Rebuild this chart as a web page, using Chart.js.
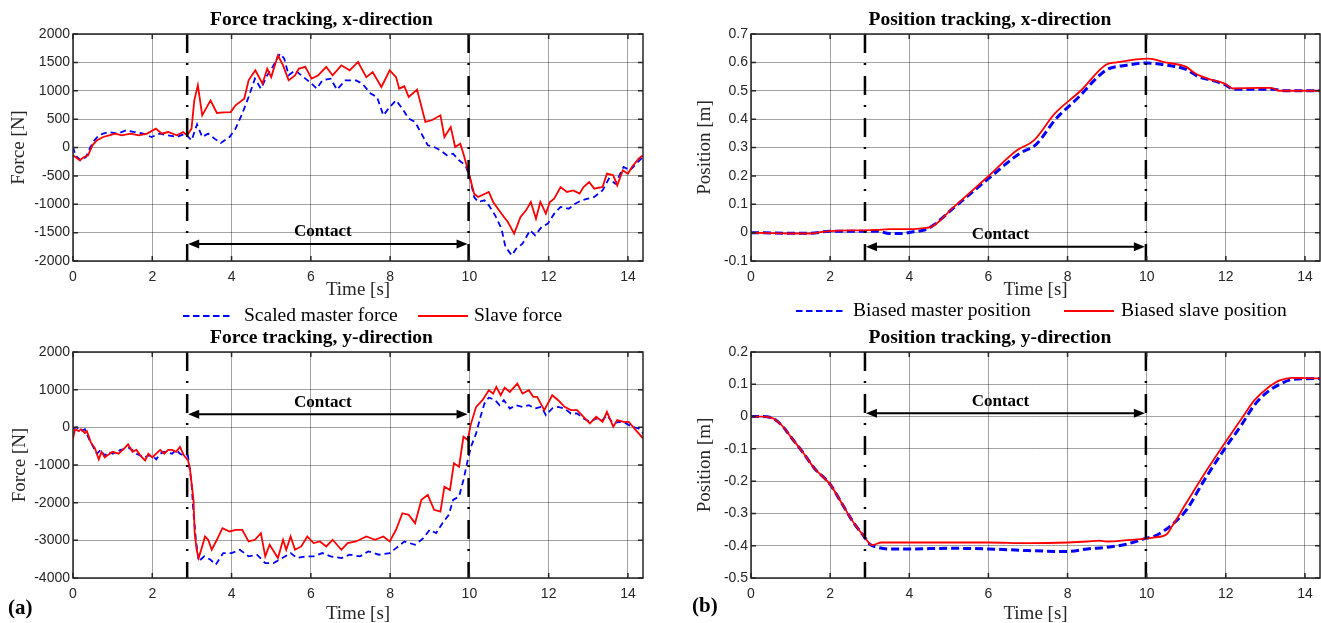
<!DOCTYPE html>
<html>
<head>
<meta charset="utf-8">
<script src="https://cdn.jsdelivr.net/npm/chart.js@4.4.0/dist/chart.umd.min.js"></script>
<style>
  html, body { margin: 0; padding: 0; background: #fff; overflow: hidden; width: 1321px; height: 623px; }
  canvas { position: absolute; }
  .lg { position: absolute; font-family: "Liberation Serif", "Times New Roman", serif; font-size: 19.5px; line-height: 24px; color: #000; white-space: nowrap; }
  .sw { position: absolute; }
  .tag { position: absolute; font-family: "Liberation Serif", serif; font-weight: bold; font-size: 21px; line-height: 24px; }
</style>
</head>
<body>
<canvas id="fx" width="660" height="310" style="left:0;top:0"></canvas>
<canvas id="px" width="661" height="310" style="left:660px;top:0"></canvas>
<canvas id="fy" width="660" height="303" style="left:0;top:324px"></canvas>
<canvas id="py" width="661" height="303" style="left:660px;top:324px"></canvas>
<div id="legends"></div>
<div class="tag" style="left:8px;top:595px">(a)</div>
<div class="tag" style="left:692px;top:593px">(b)</div>
<script>
// contact phase, seconds
const contactTimes = [2.88, 9.98];

const xTicksMax = 14.38;

// force, x-direction
const tFxSlave = [0,0.06,0.17,0.28,0.38,0.49,0.6,0.76,0.91,1.07,1.23,1.45,1.66,1.87,2.09,2.24,2.4,2.62,2.78,2.88,2.99,3.06,3.15,3.26,3.47,3.63,3.8,3.98,4.1,4.32,4.43,4.6,4.78,4.9,5.0,5.17,5.3,5.44,5.6,5.7,5.86,6.02,6.18,6.39,6.55,6.77,6.98,7.19,7.4,7.56,7.78,7.99,8.15,8.23,8.36,8.47,8.68,8.89,9.05,9.27,9.37,9.53,9.64,9.77,9.85,10.01,10.12,10.22,10.49,10.6,10.81,10.97,11.13,11.29,11.43,11.55,11.68,11.79,11.93,12.03,12.14,12.3,12.46,12.62,12.78,12.88,13.02,13.15,13.36,13.47,13.63,13.73,13.87,14.0,14.1,14.27,14.38];
const fxSlave = [-138,-167,-226,-167,-138,38,126,185,214,244,214,244,214,244,332,244,273,214,273,214,332,830,1096,567,830,608,620,625,743,860,1183,1360,1125,1390,1240,1624,1448,1183,1270,1390,1420,1213,1270,1420,1270,1448,1360,1507,1240,1330,1066,1360,1240,1037,1078,890,1020,450,480,567,185,361,9,67,-109,-520,-813,-872,-784,-960,-1166,-1313,-1518,-1225,-1107,-960,-1254,-960,-1166,-960,-901,-696,-784,-755,-813,-696,-608,-725,-696,-461,-490,-667,-402,-461,-343,-197,-138];
const tFxMaster = [0,0.06,0.19,0.33,0.44,0.54,0.65,0.76,0.91,1.13,1.34,1.55,1.77,1.98,2.19,2.4,2.62,2.83,2.99,3.13,3.26,3.41,3.57,3.73,3.95,4.1,4.27,4.43,4.59,4.74,4.9,5.06,5.22,5.33,5.44,5.6,5.76,6.02,6.15,6.29,6.5,6.66,6.87,7.14,7.3,7.51,7.67,7.83,7.99,8.15,8.31,8.47,8.63,8.79,8.95,9.11,9.27,9.43,9.59,9.74,9.9,10.01,10.12,10.22,10.38,10.49,10.65,10.81,10.91,11.07,11.18,11.34,11.53,11.66,11.82,11.98,12.14,12.3,12.51,12.67,12.83,12.99,13.15,13.36,13.52,13.68,13.89,14.05,14.21,14.38];
const fxMaster = [9,-138,-226,-167,9,126,214,244,273,244,303,273,244,185,244,214,185,244,126,408,185,244,156,79,185,332,596,890,1213,1037,1272,1448,1653,1565,1272,1360,1272,1125,1037,1183,1213,1019,1183,1183,1125,949,890,567,714,830,684,508,450,244,38,9,-50,-138,-109,-226,-314,-520,-872,-960,-931,-1019,-1196,-1430,-1753,-1900,-1783,-1695,-1460,-1548,-1401,-1342,-1166,-1048,-1078,-990,-931,-901,-872,-755,-549,-637,-343,-402,-285,-167];

// position, x-direction
const tPxSlave = [0,0.5,1.0,1.5,1.8,2.2,2.8,3.2,3.5,4.0,4.3,4.58,5.12,5.97,6.72,7.15,7.68,8.33,8.97,9.24,10.04,10.47,11.0,11.22,11.54,11.97,12.18,12.82,13.14,13.36,14.0,14.38];
const pxSlave = [0,-0.002,-0.003,-0.003,0.003,0.007,0.008,0.01,0.012,0.012,0.015,0.022,0.09,0.195,0.29,0.325,0.42,0.50,0.592,0.60,0.613,0.60,0.584,0.562,0.543,0.525,0.508,0.51,0.51,0.50,0.50,0.50];
const tPxMaster = [0,1.0,1.5,2.0,2.9,3.2,3.5,3.8,4.1,4.4,4.6,5.1,6.0,6.8,7.2,7.7,8.3,8.7,9.0,9.5,10.0,10.5,11.0,11.3,11.7,12.0,12.2,12.8,13.2,13.5,14.38];
const pxMaster = [0,-0.002,-0.002,0.005,0.005,0.005,-0.003,-0.003,0.003,0.01,0.025,0.085,0.19,0.28,0.31,0.40,0.48,0.54,0.575,0.59,0.598,0.59,0.575,0.55,0.535,0.52,0.505,0.505,0.505,0.5,0.5];

// force, y-direction
const tFySlave = [0,0.05,0.15,0.2,0.3,0.35,0.45,0.55,0.65,0.72,0.8,0.9,1.0,1.15,1.3,1.39,1.5,1.6,1.7,1.82,1.9,2.0,2.1,2.2,2.3,2.4,2.5,2.6,2.7,2.8,2.9,2.95,3.04,3.07,3.12,3.17,3.26,3.33,3.41,3.5,3.63,3.77,3.95,4.11,4.27,4.43,4.59,4.74,4.85,4.96,5.17,5.3,5.38,5.49,5.6,5.76,5.91,6.07,6.23,6.39,6.55,6.77,6.93,7.14,7.4,7.62,7.83,7.99,8.15,8.31,8.47,8.63,8.79,8.95,9.11,9.27,9.37,9.51,9.61,9.74,9.85,9.96,10.03,10.17,10.33,10.49,10.6,10.68,10.79,10.89,11.02,11.21,11.34,11.5,11.61,11.71,11.89,12.09,12.24,12.4,12.56,12.72,12.88,13.04,13.2,13.36,13.47,13.63,13.73,13.89,14.02,14.16,14.27,14.38];
const fySlave = [-300,-50,-100,-50,-150,-100,-400,-550,-850,-650,-800,-720,-650,-700,-550,-450,-650,-600,-750,-880,-700,-800,-700,-600,-700,-600,-600,-650,-520,-750,-870,-1100,-1930,-2810,-3250,-3470,-3160,-2900,-2985,-3250,-2985,-2675,-2765,-2720,-2720,-3030,-2985,-2810,-3426,-3118,-3470,-2985,-3250,-2897,-3250,-3162,-2897,-3073,-3030,-3162,-2985,-3250,-3073,-3030,-2897,-2985,-2897,-3030,-2720,-2280,-2324,-2544,-1926,-1794,-2191,-2235,-1574,-1662,-956,-1044,-250,-338,59,544,720,985,897,1073,853,1056,941,1162,897,985,809,809,456,853,720,544,456,456,280,103,280,147,412,15,191,147,147,-29,-162,-294];
const tFyMaster = [0,0.1,0.2,0.3,0.4,0.5,0.6,0.7,0.8,0.9,1.0,1.2,1.4,1.5,1.6,1.8,1.9,2.0,2.1,2.2,2.3,2.5,2.6,2.7,2.8,2.9,2.99,3.04,3.1,3.17,3.31,3.47,3.6,3.79,4.0,4.21,4.43,4.64,4.85,5.06,5.28,5.49,5.65,5.86,6.07,6.29,6.5,6.77,6.98,7.24,7.45,7.72,7.99,8.15,8.36,8.63,8.84,9.0,9.16,9.32,9.48,9.59,9.74,9.85,9.96,10.04,10.17,10.28,10.38,10.49,10.65,10.76,10.87,11.02,11.18,11.34,11.5,11.66,11.82,11.93,12.09,12.24,12.4,12.56,12.72,12.88,13.04,13.2,13.36,13.47,13.63,13.79,13.95,14.11,14.27,14.38];
const fyMaster = [-29,0,-100,-50,-300,-500,-700,-600,-750,-650,-700,-600,-550,-600,-700,-800,-750,-750,-850,-700,-650,-700,-600,-700,-750,-750,-1485,-2280,-2985,-3559,-3426,-3515,-3647,-3338,-3338,-3250,-3426,-3382,-3603,-3603,-3470,-3338,-3470,-3426,-3426,-3338,-3426,-3470,-3382,-3426,-3294,-3382,-3338,-3206,-3030,-3118,-2941,-2720,-2809,-2544,-2324,-1926,-1838,-1397,-868,-515,-162,279,632,791,720,588,720,500,588,544,588,500,544,323,500,544,500,367,367,235,147,235,191,323,103,147,103,15,-29,-162];

// position, y-direction
const tPySlave = [0,0.3,0.5,0.6,0.8,1.0,1.3,1.6,2.0,2.3,2.6,2.85,3.06,3.3,4.0,5.0,6.0,7.0,8.0,8.5,8.8,9.0,9.5,9.95,10.2,10.5,10.64,11.0,11.44,11.97,12.4,12.72,13.04,13.36,13.68,14.0,14.38];
const pySlave = [0,0,-0.003,-0.008,-0.03,-0.062,-0.109,-0.16,-0.21,-0.27,-0.33,-0.37,-0.398,-0.39,-0.39,-0.39,-0.39,-0.392,-0.39,-0.387,-0.384,-0.387,-0.383,-0.378,-0.374,-0.365,-0.34,-0.268,-0.181,-0.083,-0.006,0.05,0.087,0.112,0.12,0.119,0.118];
const tPyMaster = [0,0.3,0.5,0.6,0.8,1.0,1.3,1.6,2.0,2.3,2.6,2.85,3.0,3.2,3.5,4.0,5.0,6.0,7.0,8.0,8.5,9.0,9.5,9.95,10.2,10.4,10.64,11.0,11.44,11.97,12.4,12.72,13.04,13.36,13.68,14.0,14.38];
const pyMaster = [0,0,-0.003,-0.008,-0.03,-0.062,-0.109,-0.16,-0.21,-0.27,-0.33,-0.37,-0.395,-0.405,-0.41,-0.41,-0.408,-0.41,-0.415,-0.418,-0.41,-0.405,-0.395,-0.378,-0.37,-0.357,-0.335,-0.29,-0.2,-0.1,-0.025,0.035,0.075,0.1,0.115,0.117,0.118];

// y level of the "Contact" arrow in each plot
const arrowLevels = { fx: -1700, px: -0.05, fy: 350, py: 0.01 };

const legendForce = ["Scaled master force", "Slave force"];
const legendPos = ["Biased master position", "Biased slave position"];

const SERIF = '"Liberation Serif", "Times New Roman", serif';
const SANS = '"Liberation Sans", Arial, sans-serif';

function pts(ts, vs) {
  return ts.map((t, i) => ({ x: t, y: vs[i] }));
}

const contactPlugin = {
  id: "contact",
  afterDatasetsDraw(chart, args, opts) {
    const { ctx, chartArea: a, scales } = chart;
    const x1 = scales.x.getPixelForValue(contactTimes[0]);
    const x2 = scales.x.getPixelForValue(contactTimes[1]);
    ctx.save();
    ctx.strokeStyle = "#000";
    ctx.lineWidth = 2.5;
    ctx.setLineDash([19, 10, 2, 11]);
    [x1, x2].forEach(function (px) {
      ctx.beginPath();
      ctx.moveTo(px, a.top);
      ctx.lineTo(px, a.bottom);
      ctx.stroke();
    });
    ctx.setLineDash([]);
    const py = scales.y.getPixelForValue(opts.level);
    ctx.lineWidth = 2;
    ctx.beginPath();
    ctx.moveTo(x1 + 8, py);
    ctx.lineTo(x2 - 8, py);
    ctx.stroke();
    ctx.fillStyle = "#000";
    ctx.beginPath();
    ctx.moveTo(x1 + 1, py);
    ctx.lineTo(x1 + 12, py - 4.5);
    ctx.lineTo(x1 + 12, py + 4.5);
    ctx.closePath();
    ctx.fill();
    ctx.beginPath();
    ctx.moveTo(x2 - 1, py);
    ctx.lineTo(x2 - 12, py - 4.5);
    ctx.lineTo(x2 - 12, py + 4.5);
    ctx.closePath();
    ctx.fill();
    ctx.font = "bold 17px " + SERIF;
    ctx.textAlign = "center";
    ctx.textBaseline = "middle";
    ctx.fillText("Contact", (x1 + x2) / 2 - 5, py - 12);
    ctx.restore();
  },
};

const boxPlugin = {
  id: "box",
  afterDraw(chart) {
    const { ctx, chartArea: a, scales } = chart;
    ctx.save();
    ctx.strokeStyle = "#262626";
    ctx.lineWidth = 1.5;
    ctx.beginPath();
    scales.x.ticks.forEach(function (t) {
      const px = scales.x.getPixelForValue(t.value);
      ctx.moveTo(px, a.bottom);
      ctx.lineTo(px, a.bottom - 5);
      ctx.moveTo(px, a.top);
      ctx.lineTo(px, a.top + 5);
    });
    scales.y.ticks.forEach(function (t) {
      const py = scales.y.getPixelForValue(t.value);
      ctx.moveTo(a.left, py);
      ctx.lineTo(a.left + 5, py);
      ctx.moveTo(a.right, py);
      ctx.lineTo(a.right - 5, py);
    });
    ctx.stroke();
    ctx.strokeRect(a.left, a.top, a.right - a.left, a.bottom - a.top);
    ctx.restore();
  },
};

function plot(id, p) {
  return new Chart(document.getElementById(id), {
    type: "line",
    data: {
      datasets: [
        {
          label: p.labels[1],
          data: pts(p.ts, p.vs),
          borderColor: "#ff0000",
          borderWidth: p.redW,
          pointRadius: 0,
          cubicInterpolationMode: p.smooth ? "monotone" : "default",
          tension: 0,
          order: 0,
        },
        {
          label: p.labels[0],
          data: pts(p.tm, p.vm),
          borderColor: "#0000ff",
          borderWidth: p.blueW,
          borderDash: p.dash,
          pointRadius: 0,
          cubicInterpolationMode: p.smooth ? "monotone" : "default",
          tension: 0,
          order: 1,
        },
      ],
    },
    options: {
      responsive: false,
      animation: false,
      events: [],
      layout: { padding: { left: 0, right: p.padR, top: 0, bottom: 0 } },
      plugins: {
        legend: { display: false },
        tooltip: { enabled: false },
        title: {
          display: true,
          text: p.title,
          color: "#000",
          font: { family: SERIF, size: 19.5, weight: "bold" },
          padding: p.titlePad,
        },
        contact: { level: p.arrow },
      },
      scales: {
        x: {
          type: "linear",
          min: 0,
          max: xTicksMax,
          border: { display: false },
          grid: { color: "rgba(0,0,0,0.36)", lineWidth: 1, drawTicks: false },
          ticks: {
            stepSize: 2,
            includeBounds: false,
            autoSkip: false,
            maxRotation: 0,
            padding: 8,
            color: "#262626",
            font: { family: SANS, size: 14 },
          },
          title: {
            display: true,
            text: "Time [s]",
            color: "#262626",
            font: { family: SERIF, size: 19 },
            padding: { top: 0, bottom: p.xTitlePad },
          },
          afterFit(s) { s.height = 49; },
        },
        y: {
          min: p.yMin,
          max: p.yMax,
          border: { display: false },
          grid: { color: "rgba(0,0,0,0.36)", lineWidth: 1, drawTicks: false },
          ticks: {
            stepSize: p.yStep,
            autoSkip: false,
            padding: 3,
            color: "#262626",
            font: { family: SANS, size: 14 },
            callback: p.fmt,
          },
          title: {
            display: true,
            text: p.yTitle,
            color: "#262626",
            font: { family: SERIF, size: 19 },
            padding: { top: p.yTitlePad, bottom: 0 },
          },
          afterFit(s) { s.width = p.yW; },
        },
      },
    },
    plugins: [contactPlugin, boxPlugin],
  });
}

const fmtForce = function (v) { return String(v); };
const fmtPos = function (v) { return String(Math.round(v * 10) / 10); };

plot("fx", {
  title: "Force tracking, x-direction", yTitle: "Force [N]",
  ts: tFxSlave, vs: fxSlave, tm: tFxMaster, vm: fxMaster, labels: legendForce,
  yMin: -2000, yMax: 2000, yStep: 500, fmt: fmtForce, arrow: arrowLevels.fx,
  redW: 1.8, blueW: 1.8, dash: [6, 4], smooth: false,
  padR: 17, yW: 73, yTitlePad: 7.6, xTitlePad: 8.6, titlePad: { top: 8.3, bottom: 2.3 },
});
plot("px", {
  title: "Position tracking, x-direction", yTitle: "Position [m]",
  ts: tPxSlave, vs: pxSlave, tm: tPxMaster, vm: pxMaster, labels: legendPos,
  yMin: -0.1, yMax: 0.7, yStep: 0.1, fmt: fmtPos, arrow: arrowLevels.px,
  redW: 1.8, blueW: 3, dash: [8, 4], smooth: true,
  padR: 1, yW: 91, yTitlePad: 33.6, xTitlePad: 8.6, titlePad: { top: 8.3, bottom: 2.3 },
});
plot("fy", {
  title: "Force tracking, y-direction", yTitle: "Force [N]",
  ts: tFySlave, vs: fySlave, tm: tFyMaster, vm: fyMaster, labels: legendForce,
  yMin: -4000, yMax: 2000, yStep: 1000, fmt: fmtForce, arrow: arrowLevels.fy,
  redW: 1.8, blueW: 1.8, dash: [6, 4], smooth: false,
  padR: 17, yW: 73, yTitlePad: 8.4, xTitlePad: 1.6, titlePad: { top: 2, bottom: 2.6 },
});
plot("py", {
  title: "Position tracking, y-direction", yTitle: "Position [m]",
  ts: tPySlave, vs: pySlave, tm: tPyMaster, vm: pyMaster, labels: legendPos,
  yMin: -0.5, yMax: 0.2, yStep: 0.1, fmt: fmtPos, arrow: arrowLevels.py,
  redW: 1.8, blueW: 3, dash: [8, 4], smooth: true,
  padR: 1, yW: 91, yTitlePad: 33.6, xTitlePad: 1.6, titlePad: { top: 2, bottom: 2.6 },
});

// shared legends between the two rows
function legend(labels, items, cy) {
  const host = document.getElementById("legends");
  const colors = ["#0000ff", "#ff0000"];
  const dashes = ["6.5 3.5", ""];
  items.forEach(function (it, i) {
    const sw = document.createElementNS("http://www.w3.org/2000/svg", "svg");
    sw.setAttribute("class", "sw");
    sw.setAttribute("width", "50");
    sw.setAttribute("height", "4");
    sw.style.left = it.sw + "px";
    sw.style.top = (cy - 2) + "px";
    sw.innerHTML = '<line x1="0" y1="2" x2="50" y2="2" stroke="' + colors[i] + '" stroke-width="2"' +
      (dashes[i] ? ' stroke-dasharray="' + dashes[i] + '"' : "") + "/>";
    host.appendChild(sw);
    const tx = document.createElement("div");
    tx.className = "lg";
    tx.style.left = it.tx + "px";
    tx.style.top = (cy - 13) + "px";
    tx.textContent = labels[i];
    host.appendChild(tx);
  });
}
legend(legendForce, [{ sw: 183, tx: 244 }, { sw: 418, tx: 474 }], 316);
legend(legendPos, [{ sw: 796, tx: 853 }, { sw: 1064, tx: 1121 }], 311);
</script>
</body>
</html>
